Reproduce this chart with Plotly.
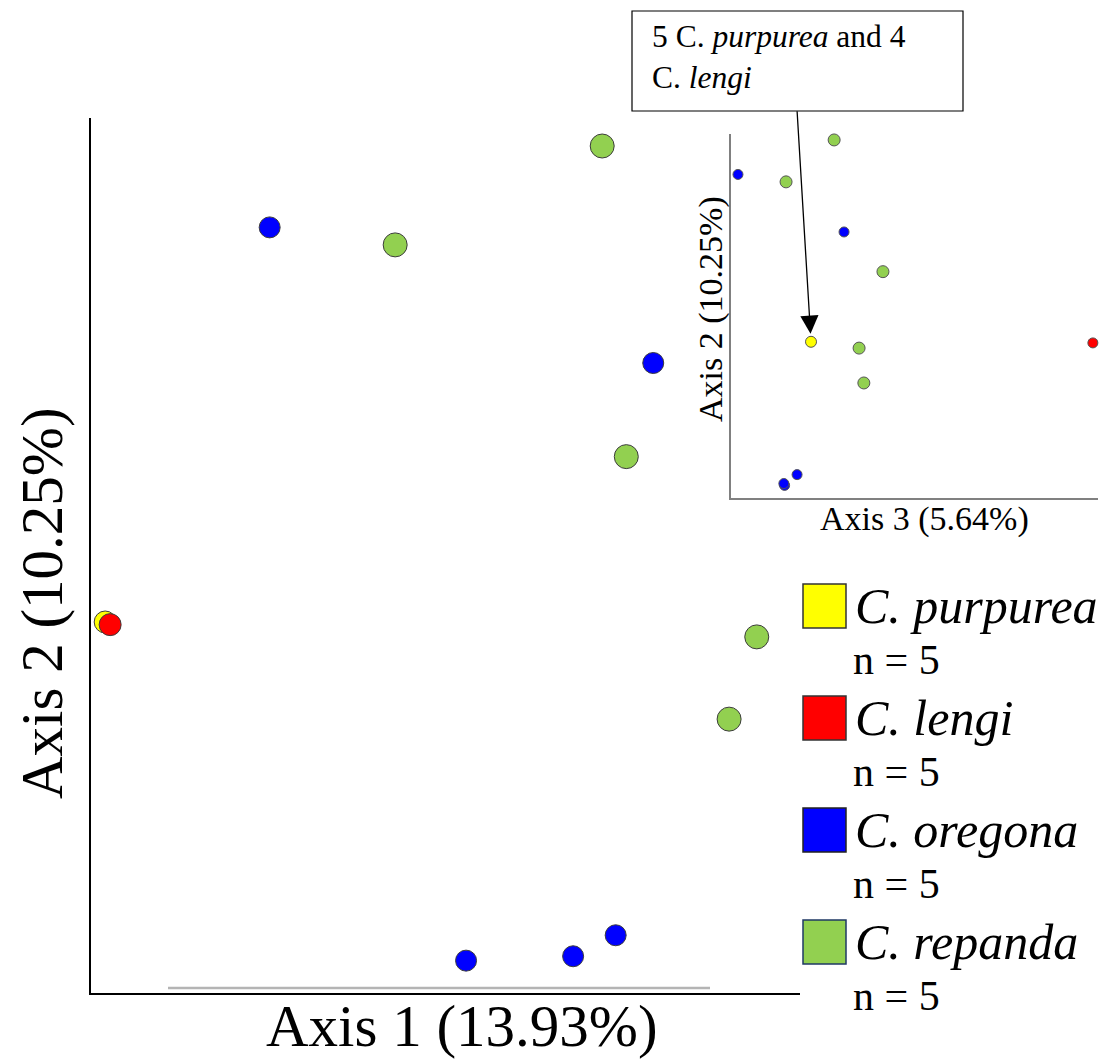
import plotly.graph_objects as go

W, H = 1116, 1063
SERIF = "Liberation Serif, Times New Roman, serif"

# Species, sample counts and colours
species = ["C. purpurea", "C. lengi", "C. oregona", "C. repanda"]
counts = [5, 5, 5, 5]
colors = ["#FFFF00", "#FF0000", "#0000FF", "#92D050"]
square_edges = ["#333333", "#333333", "#222222", "#1F3864"]

# PCoA scores (relative units) per species: axis 1, axis 2, axis 3
purpurea_axis1 = [2.0]
purpurea_axis2 = [42.4]
purpurea_axis3 = [21.8]

lengi_axis1 = [2.7]
lengi_axis2 = [42.1]
lengi_axis3 = [98.6]

oregona_axis1 = [25.2, 79.3, 52.9, 68.0, 74.0]
oregona_axis2 = [87.5, 72.0, 3.7, 4.2, 6.6]
oregona_axis3 = [1.9, 30.8, 14.6, 14.4, 18.0]

repanda_axis1 = [72.1, 42.9, 75.5, 93.9, 90.0]
repanda_axis2 = [96.8, 85.5, 61.3, 40.7, 31.3]
repanda_axis3 = [28.1, 15.0, 41.4, 34.9, 36.2]

axis_titles = ["Axis 1 (13.93%)", "Axis 2 (10.25%)", "Axis 3 (5.64%)"]


def px(x):
    return x / W


def py(y):
    return 1 - y / H


scores = {
    "C. purpurea": (purpurea_axis1, purpurea_axis2, purpurea_axis3),
    "C. lengi": (lengi_axis1, lengi_axis2, lengi_axis3),
    "C. oregona": (oregona_axis1, oregona_axis2, oregona_axis3),
    "C. repanda": (repanda_axis1, repanda_axis2, repanda_axis3),
}
main_size = {"C. purpurea": 22, "C. lengi": 22, "C. oregona": 21, "C. repanda": 24}
inset_size = {"C. purpurea": 11, "C. lengi": 10, "C. oregona": 10, "C. repanda": 12}
col = dict(zip(species, colors))

fig = go.Figure()

# Main panel: axis 1 vs axis 2 (C. lengi drawn last, on top)
for sp in ["C. repanda", "C. oregona", "C. purpurea", "C. lengi"]:
    a1, a2, a3 = scores[sp]
    fig.add_trace(go.Scatter(
        x=a1, y=a2, mode="markers", xaxis="x", yaxis="y", cliponaxis=False,
        marker=dict(size=main_size[sp], color=col[sp],
                    line=dict(color="#3c3c3c", width=1)),
        showlegend=False, name=sp))

# Inset: axis 3 vs axis 2
for sp in ["C. repanda", "C. oregona", "C. purpurea", "C. lengi"]:
    a1, a2, a3 = scores[sp]
    fig.add_trace(go.Scatter(
        x=a3, y=a2, mode="markers", xaxis="x2", yaxis="y2", cliponaxis=False,
        marker=dict(size=inset_size[sp], color=col[sp],
                    line=dict(color="#555555", width=1)),
        showlegend=False, name=sp))

axis_common = dict(showgrid=False, zeroline=False, showticklabels=False,
                   ticks="", showline=True)

shapes = [
    # faint rule under the main plot area
    dict(type="line", xref="paper", yref="paper",
         x0=px(168), x1=px(710), y0=py(988), y1=py(988),
         line=dict(color="#b4b4b4", width=2.5)),
    # callout box
    dict(type="rect", xref="paper", yref="paper",
         x0=px(632), x1=px(963), y0=py(111), y1=py(11),
         line=dict(color="black", width=1.2), fillcolor="white"),
]

annotations = [
    dict(text=axis_titles[0], xref="paper", yref="paper", x=px(462), y=py(1026),
         showarrow=False, font=dict(family=SERIF, size=59, color="black"),
         xanchor="center", yanchor="middle"),
    dict(text=axis_titles[1], xref="paper", yref="paper", x=px(42), y=py(603),
         showarrow=False, textangle=-90,
         font=dict(family=SERIF, size=59, color="black"),
         xanchor="center", yanchor="middle"),
    dict(text=axis_titles[2], xref="paper", yref="paper", x=px(924), y=py(519),
         showarrow=False, font=dict(family=SERIF, size=34, color="black"),
         xanchor="center", yanchor="middle"),
    dict(text=axis_titles[1], xref="paper", yref="paper", x=px(711), y=py(309),
         showarrow=False, textangle=-90,
         font=dict(family=SERIF, size=34, color="black"),
         xanchor="center", yanchor="middle"),
    dict(text="5 C. <i>purpurea</i> and 4<br>C. <i>lengi</i>",
         xref="paper", yref="paper", x=px(650), y=py(57),
         showarrow=False, align="left",
         font=dict(family=SERIF, size=31.5, color="black"),
         xanchor="left", yanchor="middle"),
    # arrow from the callout to the overlapping points
    dict(text="", xref="x2", yref="y2", x=purpurea_axis3[0], y=purpurea_axis2[0],
         ax=-14, ay=-232, axref="pixel", ayref="pixel", showarrow=True,
         arrowhead=2, arrowsize=2.8, arrowwidth=1.3, arrowcolor="black",
         standoff=8),
]

# Legend: coloured squares, italic species names and sample sizes
for i, (sp, c, edge, n) in enumerate(zip(species, colors, square_edges, counts)):
    top = 584 + 112 * i
    shapes.append(dict(type="rect", xref="paper", yref="paper",
                       x0=px(803), x1=px(846), y0=py(top + 44), y1=py(top),
                       line=dict(color=edge, width=1.5), fillcolor=c))
    annotations.append(dict(text=f"<i>{sp}</i>", xref="paper", yref="paper",
                            x=px(853), y=py(top + 22), showarrow=False,
                            xanchor="left", yanchor="middle",
                            font=dict(family=SERIF, size=50, color="black")))
    annotations.append(dict(text=f"n = {n}", xref="paper", yref="paper",
                            x=px(851), y=py(top + 76), showarrow=False,
                            xanchor="left", yanchor="middle",
                            font=dict(family=SERIF, size=42, color="black")))

fig.update_layout(
    width=W, height=H,
    margin=dict(l=0, r=0, t=0, b=0),
    paper_bgcolor="white", plot_bgcolor="rgba(0,0,0,0)",
    showlegend=False,
    xaxis=dict(domain=[px(91), px(800)], range=[0, 100], anchor="y",
               linecolor="black", linewidth=2, **axis_common),
    yaxis=dict(domain=[py(993), py(118)], range=[0, 100], anchor="x",
               linecolor="black", linewidth=2, **axis_common),
    xaxis2=dict(domain=[px(731), px(1098)], range=[0, 100], anchor="y2",
                linecolor="#808080", linewidth=2, **axis_common),
    yaxis2=dict(domain=[py(498), py(134)], range=[0.3, 98.4], anchor="x2",
                linecolor="#808080", linewidth=2, **axis_common),
    shapes=shapes,
    annotations=annotations,
)

fig.write_html("out.html")
